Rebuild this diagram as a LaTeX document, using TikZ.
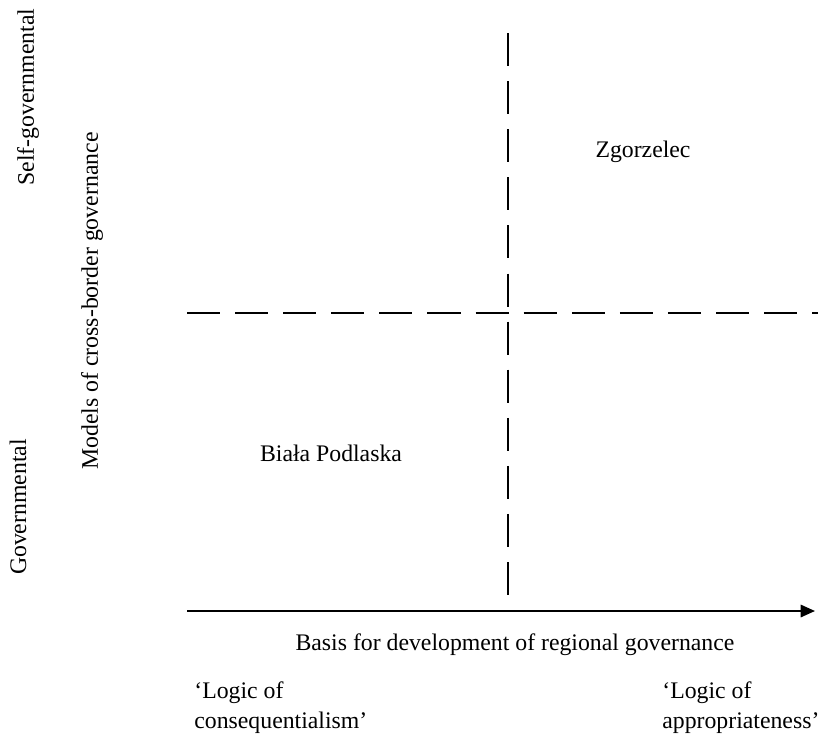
\documentclass[tikz,border=0pt]{standalone}
\usepackage{fontspec}
\setmainfont{Liberation Serif}
\usetikzlibrary{arrows.meta}

\begin{document}
\begin{tikzpicture}[x=0.526pt, y=-0.526pt,
  lbl/.style={font=\fontsize{12.5}{16}\selectfont, inner sep=0pt},
  vlbl/.style={lbl, rotate=90},
  divider/.style={line width=1pt, dash pattern=on 17.4pt off 7.9pt},
  axis/.style={line width=1pt, -{Triangle[length=7.5pt, width=6.5pt]}}]
\useasboundingbox (0,0) rectangle (822,735);
% axes
\coordinate (xs) at (187,611);
\coordinate (xe) at (815,611);
\coordinate (vt) at (508,33);
\coordinate (vb) at (508,611);
\coordinate (hl) at (187,313);
\coordinate (hr) at (818,313);
\draw[divider] (vt) -- (vb);
\draw[divider] (hl) -- (hr);
\draw[axis] (xs) -- (xe);
% vertical labels
\node[vlbl] (self) at (28,97)  {Self-governmental};
\node[vlbl] (gov)  at (18,507) {Governmental};
\node[vlbl] (mod)  at (92,301) {Models of cross-border governance};
% quadrants
\node[lbl] (zg) at (643,152) {Zgorzelec};
\node[lbl] (bp) at (331,453) {Biała Podlaska};
% horizontal labels
\node[lbl] (basis) at (515,645) {Basis for development of regional governance};
\node[lbl, align=left, anchor=north west] (cons) at (194,681) {`Logic of\\consequentialism'};
\node[lbl, align=left, anchor=north west] (appr) at (662,681) {`Logic of\\appropriateness'};
\end{tikzpicture}
\end{document}
